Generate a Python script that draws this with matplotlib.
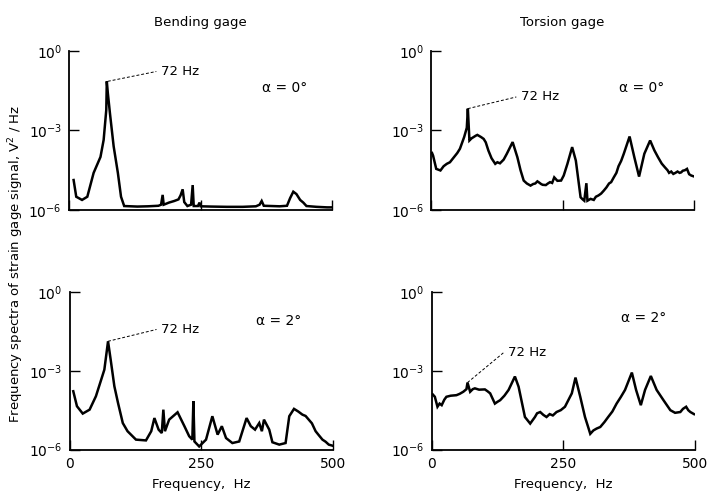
import numpy as np
import matplotlib
matplotlib.use("Agg")
import matplotlib.pyplot as plt

# values: frequency in Hz, log10 of spectral density (V^2/Hz)
bend0_f = [9, 14, 25, 35, 47, 60, 66, 71, 72, 74, 78, 85, 93, 99, 105, 130, 150, 170, 175, 178, 180,
           190, 200, 208, 212, 216, 219, 225, 232, 235, 237, 245, 248, 250, 270, 300, 330, 355, 362,
           366, 370, 400, 414, 420, 426, 432, 439, 445, 451, 470, 490, 500]
bend0_v = [-4.87, -5.5, -5.62, -5.5, -4.6, -4.0, -3.36, -2.23, -1.15, -1.6, -2.36, -3.6, -4.6, -5.5, -5.85,
           -5.87, -5.86, -5.84, -5.8, -5.43, -5.8, -5.72, -5.66, -5.6, -5.45, -5.22, -5.7, -5.85, -5.8,
           -5.06, -5.85, -5.85, -5.72, -5.86, -5.87, -5.88, -5.88, -5.86, -5.8, -5.66, -5.84, -5.86,
           -5.84, -5.55, -5.31, -5.4, -5.62, -5.72, -5.85, -5.88, -5.9, -5.9]

tors0_f = [2, 4, 10, 18, 24, 30, 36, 40, 46, 50, 55, 63, 68, 70, 73, 77, 81, 85, 88, 95, 100, 104, 109,
           115, 122, 126, 131, 138, 144, 155, 164, 170, 176, 182, 189, 194, 198, 202, 205, 209, 212,
           218, 222, 226, 230, 234, 240, 247, 252, 259, 268, 275, 284, 288, 291, 295, 297, 303, 309,
           313, 318, 323, 328, 333, 338, 342, 347, 352, 356, 361, 366, 377, 386, 395, 405, 416, 424,
           431, 438, 444, 449, 452, 456, 460, 464, 468, 472, 475, 478, 482, 486, 490, 494, 500]
tors0_v = [-3.85, -3.95, -4.45, -4.51, -4.35, -4.26, -4.2, -4.1, -3.95, -3.85, -3.69, -3.25, -2.9, -2.18,
           -3.38, -3.3, -3.25, -3.2, -3.17, -3.25, -3.32, -3.45, -3.76, -4.05, -4.26, -4.2, -4.24,
           -4.1, -3.88, -3.44, -4.01, -4.5, -4.89, -5.0, -5.08, -5.02, -5.0, -4.92, -4.96, -5.02, -5.05,
           -5.06, -5.0, -4.95, -4.98, -4.77, -4.9, -4.89, -4.7, -4.26, -3.63, -4.14, -5.52, -5.6, -5.65,
           -4.99, -5.65, -5.58, -5.62, -5.5, -5.45, -5.38, -5.27, -5.15, -5.0, -4.95, -4.77, -4.6,
           -4.35, -4.15, -3.88, -3.23, -4.01, -4.74, -3.88, -3.38, -3.75, -4.01, -4.25, -4.39, -4.5,
           -4.6, -4.55, -4.64, -4.6, -4.55, -4.6, -4.58, -4.52, -4.5, -4.45, -4.65, -4.7, -4.74]

bend2_f = [7, 14, 25, 38, 50, 60, 66, 73, 78, 85, 92, 101, 110, 126, 145, 155, 161, 169, 175, 178, 181,
           189, 205, 218, 227, 233, 235, 237, 246, 259, 271, 281, 289, 297, 309, 322, 336, 344, 352,
           360, 365, 369, 379, 385, 398, 410, 417, 426, 434, 442, 448, 454, 460, 467, 473, 480, 486,
           492, 499]
bend2_v = [-3.78, -4.35, -4.63, -4.48, -3.97, -3.34, -2.96, -1.88, -2.58, -3.59, -4.23, -4.99, -5.3,
           -5.62, -5.65, -5.3, -4.8, -5.24, -5.37, -4.48, -5.3, -4.86, -4.58, -5.11, -5.49, -5.62,
           -4.16, -5.69, -5.88, -5.62, -4.73, -5.43, -5.11, -5.56, -5.75, -5.69, -4.8, -5.11, -5.24,
           -4.99, -5.3, -4.86, -5.24, -5.72, -5.81, -5.75, -4.73, -4.45, -4.55, -4.67, -4.72, -4.86,
           -5.0, -5.3, -5.45, -5.62, -5.7, -5.81, -5.85]

tors2_f = [2, 6, 11, 15, 19, 24, 28, 36, 47, 53, 60, 66, 68, 73, 78, 82, 90, 101, 106, 111, 120, 125,
           130, 138, 146, 158, 165, 177, 187, 196, 200, 206, 212, 218, 224, 230, 237, 245, 253, 266,
           273, 282, 291, 297, 301, 307, 313, 320, 328, 335, 343, 351, 359, 367, 380, 388, 397, 405,
           416, 427, 440, 453, 462, 472, 477, 483, 487, 491, 498]
tors2_v = [-3.9, -3.99, -4.37, -4.25, -4.31, -4.1, -3.99, -3.95, -3.93, -3.88, -3.8, -3.7, -3.45, -3.8,
           -3.7, -3.67, -3.72, -3.71, -3.78, -3.86, -4.25, -4.18, -4.12, -3.95, -3.73, -3.22, -3.61,
           -4.76, -5.01, -4.76, -4.62, -4.57, -4.68, -4.76, -4.65, -4.7, -4.57, -4.5, -4.37, -3.86,
           -3.26, -3.99, -4.76, -5.14, -5.4, -5.27, -5.2, -5.14, -4.95, -4.76, -4.55, -4.25, -4.0,
           -3.73, -3.07, -3.73, -4.31, -3.73, -3.2, -3.73, -4.12, -4.5, -4.6, -4.57, -4.45, -4.37,
           -4.5, -4.57, -4.65]

titles = ["Bending gage", "Torsion gage"]
alpha_labels = ["\u03b1 = 0\u00b0", "\u03b1 = 0\u00b0", "\u03b1 = 2\u00b0", "\u03b1 = 2\u00b0"]
# peak (f, log) and label (f, log) for the "72 Hz" callouts
peak_pts = [(74, -1.15), (70, -2.18), (73, -1.88), (68, -3.45)]
label_pts = [(166, -0.78), (162, -1.74), (165, -1.43), (136, -2.32)]
alpha_pos = [(410, -1.42), (400, -1.42), (397, -1.12), (403, -0.98)]
xticks = [0, 250, 500]

fig = plt.figure(figsize=(7.1, 4.93), dpi=100)
rects = [[0.097, 0.574, 0.371, 0.323], [0.607, 0.574, 0.371, 0.323],
         [0.098, 0.088, 0.371, 0.320], [0.608, 0.088, 0.371, 0.320]]
series = [(bend0_f, bend0_v), (tors0_f, tors0_v), (bend2_f, bend2_v), (tors2_f, tors2_v)]

for i, (r, (f, v)) in enumerate(zip(rects, series)):
    ax = fig.add_axes(r)
    ax.plot(f, 10.0 ** np.array(v), color="black", lw=1.8, solid_joinstyle="miter")
    ax.set_yscale("log")
    ax.set_ylim(1e-6, 1e0)
    ax.set_xlim(0, 500)
    ax.set_yticks([1e-6, 1e-3, 1e0])
    ax.minorticks_off()
    ax.set_xticks(xticks)
    ax.spines["top"].set_visible(False)
    ax.spines["right"].set_visible(False)
    ax.spines["left"].set_linewidth(1.3)
    ax.spines["bottom"].set_linewidth(1.3)
    ax.tick_params(direction="in", length=7, width=1.0, labelsize=10, pad=5)
    if i < 2:
        ax.set_xticklabels([])
        ax.set_title(titles[i], fontsize=9.5, pad=18)
    else:
        ax.set_xlabel("Frequency,  Hz", fontsize=9.5, labelpad=5)
    px, py = peak_pts[i]
    lx, ly = label_pts[i]
    ax.plot([px, lx], [10.0 ** py, 10.0 ** ly], color="black", lw=0.7, ls=(0, (3, 2)))
    ax.text(lx + 8, 10.0 ** ly, "72 Hz", fontsize=9.5, va="center", ha="left")
    ax.text(alpha_pos[i][0], 10.0 ** alpha_pos[i][1], alpha_labels[i], fontsize=10,
            va="center", ha="center")

fig.text(0.0225, 0.465, "Frequency spectra of strain gage signal, V$^2$ / Hz", rotation=90,
         va="center", ha="center", fontsize=9.5)

fig.savefig("out.png", dpi=100)
